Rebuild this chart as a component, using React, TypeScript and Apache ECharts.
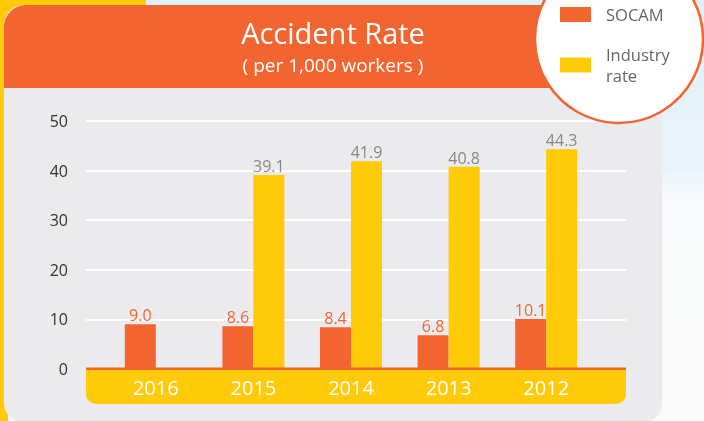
import React, { useEffect, useRef } from "react";
import * as echarts from "echarts";

const years = ["2016", "2015", "2014", "2013", "2012"];
const socam = [9.0, 8.6, 8.4, 6.8, 10.1];
const industry: (number | null)[] = [null, 39.1, 41.9, 40.8, 44.3];
const yTicks = { min: 0, max: 50, interval: 10 };

const ORANGE = "#F26531";
const YELLOW = "#FFCA08";
const FONT = "'Open Sans', 'Noto Sans', sans-serif";

export default function App() {
  const ref = useRef<HTMLDivElement>(null);
  useEffect(() => {
    const chart = echarts.init(ref.current!, undefined, { renderer: "svg" });
    const fmt = (p: any) => Number(p.value).toFixed(1);
    chart.setOption({
      animation: false,
      textStyle: { fontFamily: FONT },
      graphic: [
        {
          type: "rect",
          z: -20,
          shape: { x: 0, y: 0, width: 704, height: 421 },
          style: {
            fill: new echarts.graphic.LinearGradient(0, 0, 0, 1, [
              { offset: 0, color: "#DFF0FA" },
              { offset: 0.4, color: "#EAF3FB" },
              { offset: 0.46, color: "#F7F9FA" },
              { offset: 1, color: "#FAFAFA" },
            ]),
          },
        },
        { type: "rect", z: -19, shape: { x: 0, y: 0, width: 146, height: 12 }, style: { fill: YELLOW } },
        { type: "rect", z: -19, shape: { x: 0, y: 0, width: 8, height: 421 }, style: { fill: YELLOW } },
        {
          type: "rect",
          z: -18,
          shape: { x: 4, y: 5, width: 658, height: 418, r: 20 },
          style: { fill: "#EBEBED" },
        },
        {
          type: "rect",
          z: -17,
          shape: { x: 4, y: 5, width: 658, height: 83, r: [22, 0, 0, 0] },
          style: { fill: ORANGE },
        },
        {
          type: "text",
          z: 5,
          x: 333,
          y: 32,
          style: {
            text: "Accident Rate",
            fill: "#fff",
            font: `29px ${FONT}`,
            textAlign: "center",
            textVerticalAlign: "middle",
          },
        },
        {
          type: "text",
          z: 5,
          x: 333,
          y: 65,
          style: {
            text: "( per 1,000 workers )",
            fill: "#fff",
            font: `19px ${FONT}`,
            textAlign: "center",
            textVerticalAlign: "middle",
          },
        },
        {
          type: "rect",
          z: 1,
          shape: { x: 86, y: 369, width: 540, height: 35, r: [0, 0, 10, 10] },
          style: { fill: YELLOW },
        },
        {
          type: "rect",
          z: 3,
          shape: { x: 86, y: 367.5, width: 540, height: 2.5 },
          style: { fill: ORANGE },
        },
        {
          type: "circle",
          z: 8,
          shape: { cx: 619, cy: 39, r: 84 },
          style: { fill: "#fff", stroke: ORANGE, lineWidth: 2.5 },
        },
      ],
      legend: {
        z: 10,
        orient: "vertical",
        left: 560,
        top: 4,
        padding: 0,
        itemWidth: 31,
        itemHeight: 15,
        itemGap: 19,
        icon: "rect",
        data: ["SOCAM", "Industry rate"],
        formatter: (name: string) => (name === "Industry rate" ? "Industry\nrate" : name),
        textStyle: { color: "#666", fontSize: 16.5, lineHeight: 21, padding: [0, 0, 0, 10], fontFamily: FONT },
      },
      grid: [
        { left: 86, right: 78, top: 121, bottom: 52 },
        { left: 107, right: 109, top: 121, bottom: 52 },
      ],
      xAxis: [
        { gridIndex: 0, type: "category", data: years, show: false },
        {
          gridIndex: 1,
          type: "category",
          data: years,
          z: 10,
          axisLine: { show: false },
          axisTick: { show: false },
          axisLabel: { color: "#fff", fontSize: 20, margin: 8, fontFamily: FONT },
        },
      ],
      yAxis: [
        {
          gridIndex: 0,
          type: "value",
          ...yTicks,
          axisLine: { show: false },
          axisTick: { show: false },
          axisLabel: { color: "#333", fontSize: 16, margin: 18, fontFamily: FONT },
          splitLine: { lineStyle: { color: "#fff", width: 2 } },
        },
        { gridIndex: 1, type: "value", ...yTicks, show: false, splitLine: { show: false } },
      ],
      series: [
        {
          name: "SOCAM",
          type: "bar",
          xAxisIndex: 1,
          yAxisIndex: 1,
          data: socam,
          barWidth: 31,
          barGap: "0%",
          itemStyle: { color: ORANGE },
          label: {
            show: true,
            position: "top",
            distance: 1,
            color: ORANGE,
            fontSize: 16,
            formatter: fmt,
            fontFamily: FONT,
          },
        },
        {
          name: "Industry rate",
          type: "bar",
          xAxisIndex: 1,
          yAxisIndex: 1,
          data: industry,
          barWidth: 31,
          barGap: "0%",
          itemStyle: { color: YELLOW },
          label: {
            show: true,
            position: "top",
            distance: 1,
            color: "#888",
            fontSize: 16,
            formatter: fmt,
            fontFamily: FONT,
          },
        },
      ],
    });
    return () => chart.dispose();
  }, []);
  return <div ref={ref} style={{ position: "fixed", left: 0, top: 0, width: 704, height: 421 }} />;
}
